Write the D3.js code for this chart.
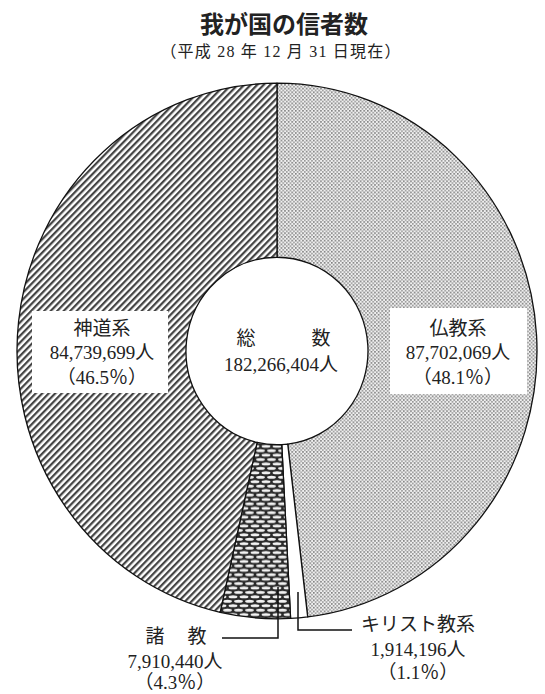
<!DOCTYPE html>
<html>
<head>
<meta charset="utf-8">
<script src="https://cdn.jsdelivr.net/npm/d3@7"></script>
<style>
  html, body { margin: 0; padding: 0; background: #fff; }
  svg { display: block; }
  text { font-family: "Liberation Serif", "Noto Sans CJK JP", serif; fill: #222; }
</style>
</head>
<body>
<svg id="chart" width="545" height="694"></svg>
<script>
// ---- data ----
const categories = ["仏教系", "キリスト教系", "諸教", "神道系"];
const values = [87702069, 1914196, 7910440, 84739699];
const totalLabel = "総数";
const titleText = "我が国の信者数";
const subtitleText = "（平成 28 年 12 月 31 日現在）";
const unit = "人";

// ---- layout ----
const cx = 277, cy = 351, R = 260, r = 91, sy = 1.03;
const svg = d3.select("#chart");
const defs = svg.append("defs");

// patterns
const pBud = defs.append("pattern").attr("id", "pBud").attr("patternUnits", "userSpaceOnUse")
  .attr("width", 3.6).attr("height", 3.6);
pBud.append("rect").attr("width", 3.6).attr("height", 3.6).attr("fill", "#f0f0f0");
pBud.append("rect").attr("x", 0).attr("y", 0).attr("width", 1.6).attr("height", 1.6).attr("fill", "#7e7e7e");
pBud.append("rect").attr("x", 1.8).attr("y", 1.8).attr("width", 1.6).attr("height", 1.6).attr("fill", "#969696");

const pShin = defs.append("pattern").attr("id", "pShin").attr("patternUnits", "userSpaceOnUse")
  .attr("width", 4.6).attr("height", 10).attr("patternTransform", "rotate(45)");
pShin.append("rect").attr("width", 4.6).attr("height", 10).attr("fill", "#fff");
pShin.append("rect").attr("x", 0).attr("y", 0).attr("width", 2.2).attr("height", 10).attr("fill", "#444");

const pOther = defs.append("pattern").attr("id", "pOther").attr("patternUnits", "userSpaceOnUse")
  .attr("width", 11).attr("height", 8.6);
pOther.append("rect").attr("width", 11).attr("height", 8.6).attr("fill", "#2a2a2a");
[[5.5, 2.15], [0, 6.45], [11, 6.45]].forEach(([x, y]) =>
  pOther.append("ellipse").attr("cx", x).attr("cy", y).attr("rx", 4.4).attr("ry", 1.45).attr("fill", "#f2f2f2"));

const fills = ["url(#pBud)", "#ffffff", "url(#pOther)", "url(#pShin)"];

// ---- pie ----
const pie = d3.pie().sort(null).value(d => d)(values);
const arc = d3.arc().innerRadius(r).outerRadius(R);

const g = svg.append("g").attr("transform", `translate(${cx},${cy}) scale(1,${sy})`);
g.selectAll("path.slice").data(pie).join("path")
  .attr("class", "slice")
  .attr("d", arc)
  .attr("fill", (d, i) => fills[i])
  .attr("stroke", "#111")
  .attr("stroke-width", 1.3)
  .attr("stroke-linejoin", "round");

// ---- title ----
svg.append("text").attr("x", 284).attr("y", 33).attr("text-anchor", "middle")
  .attr("font-size", 24).attr("font-weight", 700)
  .style("font-family", "'Noto Sans CJK JP', sans-serif")
  .text(titleText);
svg.append("text").attr("x", 281).attr("y", 57).attr("text-anchor", "middle")
  .attr("font-size", 16).attr("letter-spacing", 1.2).text(subtitleText);

const total = d3.sum(values);
const fmtN = d3.format(",");
const fmtP = d3.format(".1f");
const pct = v => `（${fmtP(v / total * 100)}％）`;

// ---- boxed labels for big slices ----
function boxedLabel(i, x, ys, box) {
  svg.append("rect").attr("x", box[0]).attr("y", box[1]).attr("width", box[2]).attr("height", box[3]).attr("fill", "#fff");
  const t = svg.append("text").attr("text-anchor", "middle").attr("font-size", 19);
  [categories[i], fmtN(values[i]) + unit, pct(values[i])].forEach((s, k) =>
    t.append("tspan").attr("x", x).attr("y", ys[k]).attr("dominant-baseline", "central").text(s));
}
boxedLabel(0, 458, [328, 352, 377], [390, 308, 137, 86]);
boxedLabel(3, 102, [328, 352, 377], [32, 311, 136, 82]);

// ---- center ----
const ct = svg.append("text").attr("font-size", 19).attr("text-anchor", "middle");
ct.append("tspan").attr("x", 246).attr("y", 338).attr("dominant-baseline", "central").text(totalLabel[0]);
ct.append("tspan").attr("x", 321).attr("y", 338).attr("dominant-baseline", "central").text(totalLabel[1]);
ct.append("tspan").attr("x", 281).attr("y", 364).attr("dominant-baseline", "central").text(fmtN(total) + unit);

// ---- small slices with leaders ----
const leader = d3.line();
svg.append("path").attr("d", leader([[222, 638], [278, 638], [278, 587]]))
  .attr("fill", "none").attr("stroke", "#111").attr("stroke-width", 1.5);
svg.append("path").attr("d", leader([[352, 630], [298, 630], [298, 592]]))
  .attr("fill", "none").attr("stroke", "#111").attr("stroke-width", 1.5);

const ot = svg.append("text").attr("font-size", 19).attr("text-anchor", "middle");
ot.append("tspan").attr("x", 155).attr("y", 636).attr("dominant-baseline", "central").text(categories[2][0]);
ot.append("tspan").attr("x", 197).attr("y", 636).attr("dominant-baseline", "central").text(categories[2][1]);
ot.append("tspan").attr("x", 175).attr("y", 661).attr("dominant-baseline", "central").text(fmtN(values[2]) + unit);
ot.append("tspan").attr("x", 175).attr("y", 682).attr("dominant-baseline", "central").text(pct(values[2]));

const kt = svg.append("text").attr("font-size", 19).attr("text-anchor", "middle");
[categories[1], fmtN(values[1]) + unit, pct(values[1])].forEach((s, k) =>
  kt.append("tspan").attr("x", 418).attr("y", [624, 649, 672][k]).attr("dominant-baseline", "central").text(s));
</script>
</body>
</html>
